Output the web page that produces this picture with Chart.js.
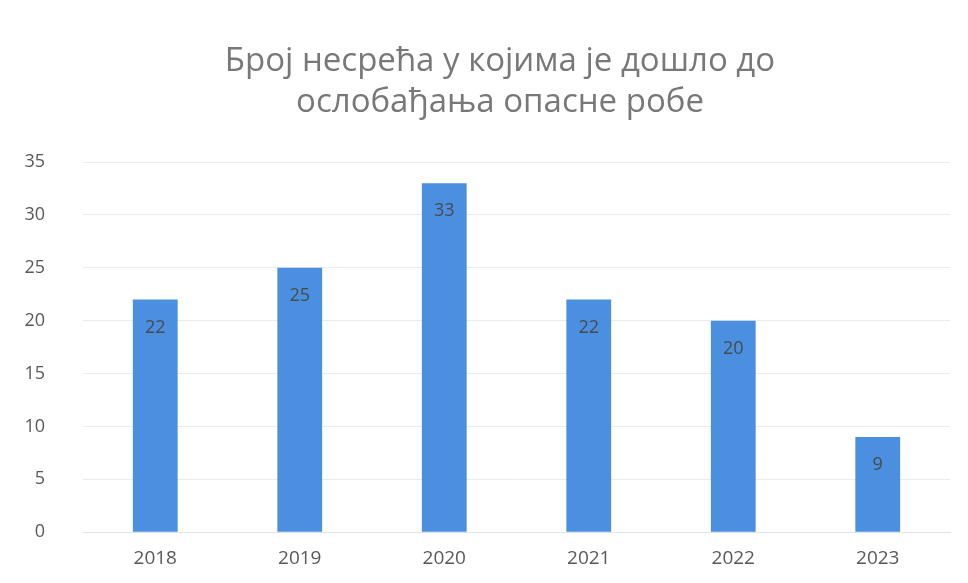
<!DOCTYPE html>
<html>
<head>
<meta charset="utf-8">
<script src="https://cdn.jsdelivr.net/npm/chart.js@4.4.1/dist/chart.umd.min.js"></script>
<style>
  html, body { margin: 0; padding: 0; background: #ffffff; }
  #wrap { width: 968px; height: 583px; }
</style>
</head>
<body>
<div id="wrap"><canvas id="main-chart" width="968" height="583"></canvas></div>
<script>
// Podaci grafikona
const years = ['2018', '2019', '2020', '2021', '2022', '2023'];
const accidents = [22, 25, 33, 22, 20, 9];
const titleLines = ['Број несрећа у којима је дошло до', 'ослобађања опасне робе'];

// Naslov u dva reda, malo pomeren udesno kao u originalu
const titleText = {
    id: 'titleText',
    afterDraw(chart) {
        const ctx = chart.ctx;
        ctx.save();
        ctx.font = '33px "Open Sans", sans-serif';
        ctx.fillStyle = '#787878';
        ctx.textAlign = 'center';
        ctx.textBaseline = 'middle';
        titleLines.forEach((line, i) => {
            ctx.fillText(line, 500, 62 + i * 41);
        });
        ctx.restore();
    }
};

// Oznake vrednosti unutar stubova, pri vrhu
const barLabels = {
    id: 'barLabels',
    afterDatasetsDraw(chart) {
        const ctx = chart.ctx;
        const meta = chart.getDatasetMeta(0);
        ctx.save();
        ctx.font = '18px "Open Sans", sans-serif';
        ctx.fillStyle = '#4a4a4a';
        ctx.textAlign = 'center';
        ctx.textBaseline = 'middle';
        meta.data.forEach((bar, i) => {
            ctx.fillText(String(accidents[i]), bar.x, bar.y + 28);
        });
        ctx.restore();
    }
};

const ctx = document.getElementById('main-chart').getContext('2d');
new Chart(ctx, {
    type: 'bar',
    data: {
        labels: years,
        datasets: [{
            data: accidents,
            backgroundColor: '#4a8fe0',
            borderWidth: 0,
            categoryPercentage: 1,
            barPercentage: 0.31
        }]
    },
    options: {
        responsive: false,
        animation: false,
        layout: { padding: { left: 22, right: 18, top: 162, bottom: 6 } },
        scales: {
            y: {
                min: 0,
                max: 35,
                afterFit(scale) { scale.width = 61; },
                ticks: {
                    stepSize: 5,
                    color: '#595959',
                    font: { family: '"Open Sans", sans-serif', size: 18 },
                    padding: 38
                },
                grid: { color: '#ebebeb', drawTicks: false },
                border: { display: false }
            },
            x: {
                ticks: {
                    color: '#595959',
                    font: { family: '"Open Sans", sans-serif', size: 19 },
                    padding: 7
                },
                grid: { display: false },
                border: { color: '#e3e3e3' }
            }
        },
        plugins: {
            legend: { display: false },
            tooltip: { enabled: false },
            title: { display: false }
        }
    },
    plugins: [barLabels, titleText]
});
</script>
</body>
</html>
